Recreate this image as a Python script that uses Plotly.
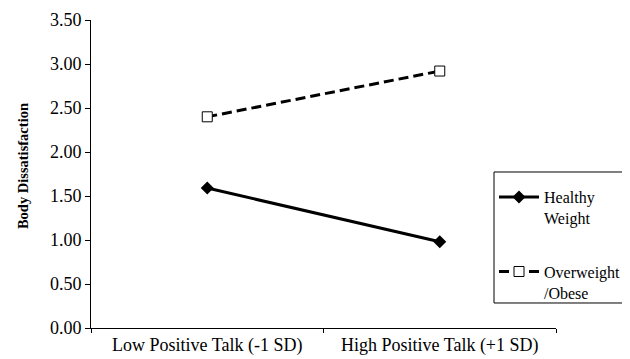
import plotly.graph_objects as go

categories = ["Low Positive Talk (-1 SD)", "High Positive Talk (+1 SD)"]
healthy = [1.59, 0.98]
overweight = [2.40, 2.92]
y_ticks = [0, 0.5, 1.0, 1.5, 2.0, 2.5, 3.0, 3.5]
series_names = ["Healthy<br>Weight", "Overweight<br>/Obese"]

font = "'Liberation Serif', 'Times New Roman', Times, serif"

fig = go.Figure()
fig.add_trace(go.Scatter(
    x=categories, y=healthy, mode="lines+markers", name=series_names[0],
    legendgroup="g1",
    line=dict(color="black", width=3),
    marker=dict(symbol="diamond", size=10, color="black"),
))
fig.add_trace(go.Scatter(
    x=categories, y=overweight, mode="lines+markers", name=series_names[1],
    legendgroup="g2",
    line=dict(color="black", width=3, dash="10px,5px"),
    marker=dict(symbol="square", size=10, color="white", line=dict(color="black", width=1)),
))

# legend frame
fig.add_shape(type="rect", xref="paper", yref="paper",
              x0=0.8667, x1=1.1527, y0=0.0812, y1=0.5065,
              line=dict(color="black", width=1), fillcolor="rgba(0,0,0,0)")

fig.add_annotation(text="<b>Body Dissatisfaction</b>", xref="paper", yref="paper",
                   x=-0.146, y=0.526, xanchor="center", yanchor="middle",
                   textangle=-90, showarrow=False,
                   font=dict(size=14.5, family=font, color="black"))

fig.update_layout(
    width=622, height=351,
    margin=dict(l=83, r=74, t=12, b=31, autoexpand=False),
    paper_bgcolor="white", plot_bgcolor="white",
    font=dict(family=font, size=18, color="black"),
    showlegend=True,
    xaxis=dict(
        type="category", range=[-0.5, 1.5], tickson="boundaries",
        showline=True, linecolor="black", linewidth=1,
        ticks="outside", ticklen=4, tickcolor="black",
        showgrid=False, zeroline=False,
    ),
    yaxis=dict(
        range=[0, 3.5], tickvals=y_ticks, tickformat=".2f",
        showline=True, linecolor="black", linewidth=1,
        ticks="outside", ticklen=5, tickcolor="black",
        showgrid=False, zeroline=False,
    ),
    legend=dict(
        x=0.8667, xanchor="left",
        y=0.4805, yanchor="top",
        borderwidth=0, bgcolor="rgba(0,0,0,0)",
        font=dict(size=16, family=font), tracegroupgap=30, valign="top",
        itemwidth=40,
    ),
)

fig.write_html("out.html")
